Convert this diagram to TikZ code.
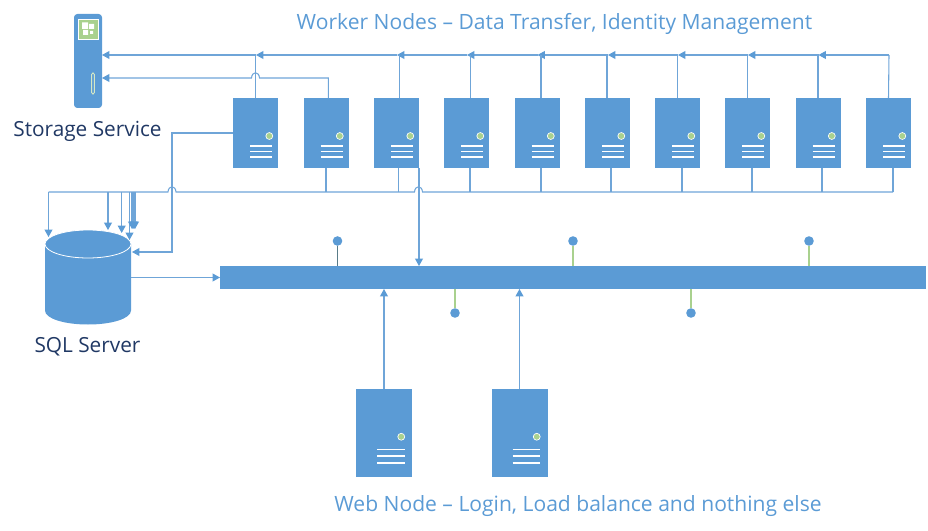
\documentclass[tikz,border=0pt]{standalone}
\usepackage{fontspec}
\setmainfont{Open Sans}
\usepackage{xcolor}
\usetikzlibrary{arrows.meta, positioning, calc}
\definecolor{boxblue}{HTML}{5B9BD5}
\definecolor{linkblue}{HTML}{6FA5D8}
\definecolor{ledgreen}{HTML}{A9D18E}
\definecolor{labeldark}{HTML}{203864}
\tikzset{
  box/.style={fill=boxblue, inner sep=0pt, outer sep=0pt},
  workerbox/.style={box, minimum width=33.75pt, minimum height=52.5pt},
  webbox/.style={box, minimum width=42pt, minimum height=66pt},
  link/.style={draw=linkblue, line width=0.8pt},
  arr/.style={link, -{Triangle[length=5.6pt,width=6pt,color=boxblue]}},
  stem/.style={draw=ledgreen, line width=0.8pt},
  pindot/.style={circle, fill=boxblue, inner sep=0pt, minimum size=7.2pt},
  title/.style={text=boxblue, font=\fontsize{15.8pt}{17pt}\selectfont},
  caption/.style={text=labeldark, font=\fontsize{15.6pt}{17pt}\selectfont},
}
% LED and the three vent bars of a server, #2 is the size factor
\newcommand{\servermarks}[2]{
  \fill[ledgreen, draw=white, line width=0.5pt] ([shift={(13.8*#2,3*#2)}]#1.center) circle (2.6pt);
  \foreach \vent in {13,18.5,24} {
    \draw[white, line width=1pt] ([shift={(-5.5*#2,\vent*#2)}]#1.center) -- ++(22*#2,0);
  }
}
\begin{document}
\begin{tikzpicture}[x=0.75pt, y=-0.75pt]
\useasboundingbox (0,0) rectangle (928,531);
% workers: centre, top stub, bottom stub
\foreach \i/\x/\tx/\bx in {1/255.5/255.3/260,2/326/328.3/326,3/396.5/399.3/398.5,4/466.5/470.3/470,5/537/541/541,6/607.5/607/611,7/677.5/677.3/682,8/747.5/747.3/752,9/818/818/822,10/888.5/888.5/893} {
  \node[workerbox] (w\i) at (\x,133) {};
  \servermarks{w\i}{1}
  \coordinate (t\i) at (\tx,55);
  \coordinate (h\i) at (\x+0.5,55);
  \coordinate (b\i) at (\bx,192);
}
% storage
\node[box, rounded corners=2.5pt, minimum width=21pt, minimum height=70.5pt] (store) at (88,61) {};
\node[fill=ledgreen, draw=white, line width=0.5pt, minimum size=15pt, inner sep=0pt] (storeicon) at (88,29) {};
\fill[white] (82,22.5) rectangle (88,29) (89,24) rectangle (94,29) (83,30) rectangle (88,35) (90,31) rectangle (93,34);
\draw[fill=boxblue, draw=ledgreen!50!white, line width=0.7pt, rounded corners=1pt] (91.7,73) rectangle (94.3,94);
\node[caption] (storelabel) at (87.5,131) {Storage Service};
% sql
\node[inner sep=0pt, minimum width=64.5pt, minimum height=71pt] (sql) at (88,277.5) {};
\fill[boxblue] (45,244) -- (45,310.5) .. controls (45,318.5) and (64,324.5) .. (88,324.5) .. controls (112,324.5) and (131,318.5) .. (131,310.5) -- (131,244) -- cycle;
\filldraw[fill=boxblue, draw=white, line width=0.6pt] (88,244) ellipse [x radius=32.25pt, y radius=10.5pt];
\node[caption] (sqllabel) at (87.5,347) {SQL Server};
% bar with its pins
\node[box, minimum width=529.5pt, minimum height=17.25pt] (bar) at (573,277.5) {};
\foreach \i/\x in {1/337.5,3/573,5/809} {
  \node[pindot] (p\i) at (\x,241) {};
  \draw[stem] (p\i) -- (p\i |- bar.north);
}
\draw[draw=ledgreen!40!black!50!linkblue, line width=0.6pt] (p1) -- (p1 |- bar.north);
\foreach \i/\x in {2/455,4/691} {
  \node[pindot] (p\i) at (\x,313) {};
  \draw[stem] (p\i) -- (p\i |- bar.south);
}
% web nodes
\node[webbox] (web1) at (384,433) {};
\node[webbox] (web2) at (519.5,433) {};
\servermarks{web1}{1.25}
\servermarks{web2}{1.25}
\draw[arr] (web1.north) -- (web1.north |- bar.south);
\draw[arr] (web2.north) -- (web2.north |- bar.south);
% top bus
\draw[link] (w10.north) -- (h10);
\foreach \i/\j in {10/9,9/8,8/7,7/6,6/5,5/4,4/3,3/1} {
  \draw[arr] (h\i) -- (h\j);
}
\foreach \i in {1,3,4,5,6,7,8,9} {
  \draw[link] (w\i.north -| t\i) -- (t\i);
}
\draw[arr] (h1) -- (h1 -| store.east);
\coordinate (lowbus) at (328.3,78);
\draw[arr] (w2.north -| lowbus) -- (lowbus) -- (259.5,78) .. controls (259,71) and (252,71) .. (251.5,78) -- (store.east |- lowbus);
% bottom bus
\foreach \i in {2,3,4,5,6,7,8,9,10} {
  \draw[link] (w\i.south -| b\i) -- (b\i);
}
\coordinate (busend) at (48.5,192);
\draw[link] (b10) -- (422.5,192) .. controls (422,185) and (415,185) .. (414.5,192) -- (176,192) .. controls (175.5,185) and (168.5,185) .. (168,192) -- (busend);
\foreach \n/\x/\yy in {1/48.5/237,2/108/230,3/121.7/233,4/129.5/240,5/132/229,6/133/229,7/134/229,8/135/229} {
  \coordinate (in\n) at (\x,\yy);
  \draw[arr] (in\n |- busend) -- (in\n);
}
% single links
\draw[arr] (w3.south east) -- (w3.south east |- bar.north);
\draw[arr] (w1.west) -| (172,252) -- (132,252);
\draw[arr] (sql.east) -- (bar.west);
% titles
\node[title] (workerlabel) at (554.5,23.5) {Worker Nodes – Data Transfer, Identity Management};
\node[title] (weblabel) at (578,506.5) {Web Node – Login, Load balance and nothing else};
\end{tikzpicture}
\end{document}
